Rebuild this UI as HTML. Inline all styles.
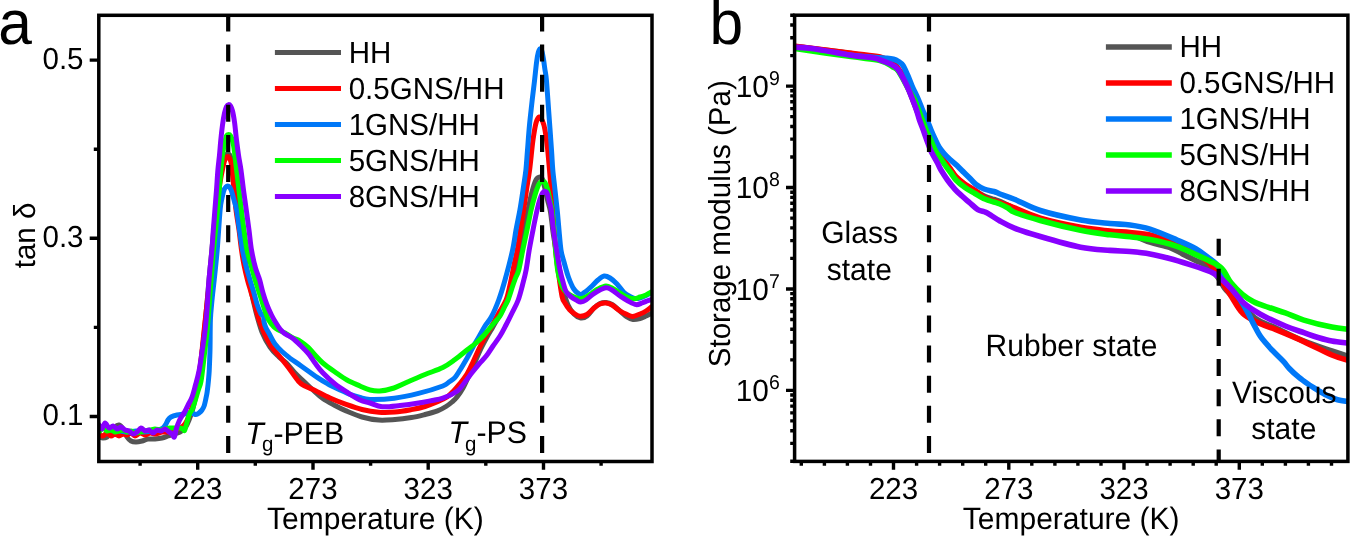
<!DOCTYPE html><html><head><meta charset="utf-8"><title>DMA figure</title><style>html,body{margin:0;padding:0;background:#fff;}svg{display:block;-webkit-font-smoothing:antialiased;will-change:transform;text-rendering:geometricPrecision;}text{font-family:"Liberation Sans", sans-serif;}</style></head><body>
<svg width="1350" height="536" viewBox="0 0 1350 536">
<rect width="1350" height="536" fill="#fff"/>
<g clip-path="url(#ca)">
<path d="M99.0,437.0 C99.7,437.2 101.7,438.0 103.0,438.0 C104.3,438.0 105.7,437.8 107.0,437.0 C108.3,436.2 109.7,434.7 111.0,433.0 C112.3,431.3 113.7,428.3 115.0,427.0 C116.3,425.7 117.7,424.7 119.0,425.0 C120.3,425.3 121.7,427.0 123.0,429.0 C124.3,431.0 125.7,435.0 127.0,437.0 C128.3,439.0 129.5,440.2 131.0,441.0 C132.5,441.8 134.2,442.0 136.0,442.0 C137.8,442.0 140.0,441.5 142.0,441.0 C144.0,440.5 145.8,439.3 148.0,439.0 C150.2,438.7 152.7,439.2 155.0,439.0 C157.3,438.8 159.8,438.5 162.0,438.0 C164.2,437.5 166.0,436.7 168.0,436.0 C170.0,435.3 172.0,434.7 174.0,434.0 C176.0,433.3 178.2,433.0 180.0,432.0 C181.8,431.0 183.5,430.0 185.0,428.0 C186.5,426.0 187.7,423.3 189.0,420.0 C190.3,416.7 191.7,413.0 193.0,408.0 C194.3,403.0 195.7,397.7 197.0,390.0 C198.3,382.3 199.7,372.8 201.0,362.0 C202.3,351.2 203.7,338.7 205.0,325.0 C206.3,311.3 207.7,294.5 209.0,280.0 C210.3,265.5 211.7,251.3 213.0,238.0 C214.3,224.7 215.7,211.0 217.0,200.0 C218.3,189.0 219.8,179.1 221.0,172.0 C222.2,164.9 223.4,160.5 224.5,157.5 C225.6,154.5 226.5,154.2 227.5,154.0 C228.5,153.8 229.5,153.8 230.5,156.5 C231.5,159.2 232.3,163.6 233.5,170.0 C234.7,176.4 236.2,185.0 237.5,195.0 C238.8,205.0 240.2,218.8 241.5,230.0 C242.8,241.2 244.0,252.3 245.5,262.0 C247.0,271.7 248.8,279.7 250.5,288.0 C252.2,296.3 254.1,304.7 256.0,312.0 C257.9,319.3 259.7,326.2 262.0,332.0 C264.3,337.8 267.2,342.8 270.0,347.0 C272.8,351.2 276.3,354.3 279.0,357.0 C281.7,359.7 283.7,360.3 286.4,363.0 C289.1,365.7 292.2,370.0 295.0,373.0 C297.8,376.0 300.4,378.2 303.4,381.0 C306.4,383.8 309.8,387.1 313.0,390.0 C316.2,392.9 319.1,395.9 322.8,398.5 C326.5,401.1 331.1,403.4 335.0,405.5 C338.9,407.6 341.6,409.0 346.1,410.9 C350.6,412.8 356.6,415.5 362.0,417.0 C367.4,418.5 373.3,419.7 378.8,420.1 C384.3,420.5 389.6,419.9 395.0,419.5 C400.4,419.1 406.4,418.3 411.4,417.5 C416.4,416.7 420.6,415.6 425.0,414.5 C429.4,413.4 434.0,412.2 437.5,410.9 C441.0,409.6 443.6,408.0 446.0,406.5 C448.4,405.0 450.2,403.6 452.0,402.0 C453.8,400.4 455.2,399.3 457.0,397.0 C458.8,394.7 461.0,391.6 463.0,388.0 C465.0,384.4 467.0,379.5 469.0,375.2 C471.0,370.9 473.0,366.4 475.0,362.0 C477.0,357.6 479.0,352.7 481.0,348.5 C483.0,344.3 485.0,340.6 487.0,337.0 C489.0,333.4 491.2,329.9 493.0,326.7 C494.8,323.5 496.4,320.8 498.0,318.0 C499.6,315.2 500.8,313.3 502.5,310.0 C504.2,306.7 506.2,303.0 508.0,298.0 C509.8,293.0 511.3,286.7 513.0,280.0 C514.7,273.3 516.7,263.0 518.0,258.0 C519.3,253.0 519.7,254.3 520.7,250.0 C521.7,245.7 522.8,238.7 524.0,232.0 C525.2,225.3 526.8,216.7 528.1,210.0 C529.4,203.3 530.7,197.0 532.0,192.0 C533.3,187.0 534.7,182.5 536.0,180.0 C537.3,177.5 538.9,177.1 540.0,177.0 C541.1,176.9 541.7,177.5 542.5,179.5 C543.3,181.5 544.2,185.6 545.0,189.0 C545.8,192.4 546.6,196.2 547.5,200.0 C548.4,203.8 549.6,206.7 550.5,212.0 C551.4,217.3 552.1,225.7 553.0,232.0 C553.9,238.3 554.9,243.7 556.0,250.0 C557.1,256.3 558.4,263.8 559.5,270.0 C560.6,276.2 561.1,281.2 562.5,287.0 C563.9,292.8 566.1,300.5 568.0,305.0 C569.9,309.5 571.9,311.8 574.0,314.0 C576.1,316.2 578.5,317.7 580.7,318.0 C582.9,318.3 584.8,317.7 587.0,316.0 C589.2,314.3 591.8,310.1 594.0,308.0 C596.2,305.9 598.0,304.4 600.0,303.5 C602.0,302.6 604.0,302.3 606.0,302.5 C608.0,302.7 609.7,303.1 612.0,304.5 C614.3,305.9 617.5,308.9 620.0,311.0 C622.5,313.1 624.8,315.6 627.0,317.0 C629.2,318.4 630.8,319.2 633.0,319.5 C635.2,319.8 637.8,319.1 640.0,318.5 C642.2,317.9 644.2,316.8 646.0,316.0 C647.8,315.2 650.2,313.9 651.0,313.5" fill="none" stroke="#555555" stroke-width="5.0" stroke-linejoin="round" stroke-linecap="round"/>
<path d="M99.0,434.0 C99.7,434.3 101.7,436.2 103.0,436.0 C104.3,435.8 105.7,433.0 107.0,433.0 C108.3,433.0 109.7,435.8 111.0,436.0 C112.3,436.2 113.7,434.0 115.0,434.0 C116.3,434.0 117.7,436.0 119.0,436.0 C120.3,436.0 121.7,434.2 123.0,434.0 C124.3,433.8 125.7,435.2 127.0,435.0 C128.3,434.8 129.7,432.8 131.0,433.0 C132.3,433.2 133.5,436.0 135.0,436.0 C136.5,436.0 138.3,433.2 140.0,433.0 C141.7,432.8 143.3,435.0 145.0,435.0 C146.7,435.0 148.2,433.2 150.0,433.0 C151.8,432.8 154.0,434.2 156.0,434.0 C158.0,433.8 160.0,432.3 162.0,432.0 C164.0,431.7 166.0,432.3 168.0,432.0 C170.0,431.7 172.0,430.7 174.0,430.0 C176.0,429.3 178.2,429.0 180.0,428.0 C181.8,427.0 183.5,426.0 185.0,424.0 C186.5,422.0 187.7,419.3 189.0,416.0 C190.3,412.7 191.7,409.0 193.0,404.0 C194.3,399.0 195.7,393.3 197.0,386.0 C198.3,378.7 199.7,370.7 201.0,360.0 C202.3,349.3 203.8,332.8 205.0,322.0 C206.2,311.2 207.0,303.7 208.0,295.0 C209.0,286.3 210.1,277.5 211.0,270.0 C211.9,262.5 212.8,256.7 213.5,250.0 C214.2,243.3 214.9,236.7 215.5,230.0 C216.1,223.3 216.4,216.7 217.0,210.0 C217.6,203.3 218.4,195.3 219.0,190.0 C219.6,184.7 220.2,181.3 220.8,178.0 C221.4,174.7 221.8,172.8 222.4,170.0 C223.0,167.2 223.8,163.1 224.5,161.0 C225.2,158.9 225.8,158.0 226.5,157.3 C227.2,156.6 227.8,156.0 228.5,156.8 C229.2,157.6 230.4,159.8 231.0,162.0 C231.6,164.2 231.6,165.3 232.1,170.0 C232.6,174.7 233.3,183.3 234.0,190.0 C234.7,196.7 235.2,203.3 236.0,210.0 C236.8,216.7 238.1,223.3 239.0,230.0 C239.9,236.7 240.7,244.2 241.5,250.0 C242.3,255.8 243.0,260.0 244.0,265.0 C245.0,270.0 246.3,275.5 247.5,280.0 C248.7,284.5 249.8,287.8 251.0,292.0 C252.2,296.2 253.6,300.3 254.9,305.0 C256.2,309.7 257.4,315.2 259.0,320.0 C260.6,324.8 262.6,329.7 264.6,334.0 C266.6,338.3 268.6,342.4 271.0,346.0 C273.4,349.6 276.3,352.3 279.1,355.8 C281.9,359.3 284.8,362.8 288.0,367.0 C291.2,371.2 295.7,378.1 298.5,381.3 C301.3,384.5 302.6,384.6 305.0,386.0 C307.4,387.4 308.8,387.5 313.0,389.5 C317.2,391.5 324.5,395.5 330.0,398.0 C335.5,400.5 340.8,402.5 346.1,404.4 C351.4,406.3 356.6,408.2 362.0,409.5 C367.4,410.8 373.3,411.8 378.8,412.2 C384.3,412.6 389.6,412.4 395.0,412.0 C400.4,411.6 406.4,410.5 411.4,409.6 C416.4,408.7 420.6,407.8 425.0,406.5 C429.4,405.2 433.8,403.4 437.5,401.8 C441.2,400.2 444.2,398.9 447.0,397.0 C449.8,395.1 451.8,392.8 454.0,390.5 C456.2,388.2 457.8,386.2 460.0,383.5 C462.2,380.8 464.8,377.6 467.0,374.0 C469.2,370.4 471.0,366.2 473.0,362.0 C475.0,357.8 477.1,352.7 479.1,348.5 C481.1,344.3 483.0,340.6 485.0,337.0 C487.0,333.4 489.5,329.9 491.3,326.7 C493.1,323.5 494.6,320.6 496.0,318.0 C497.4,315.4 498.3,314.0 500.0,311.0 C501.7,308.0 504.4,304.3 506.1,300.0 C507.8,295.7 508.7,290.8 510.0,285.0 C511.3,279.2 512.8,270.8 514.0,265.0 C515.2,259.2 516.2,255.8 517.3,250.0 C518.4,244.2 519.4,236.7 520.5,230.0 C521.6,223.3 522.7,216.7 523.7,210.0 C524.7,203.3 525.5,196.7 526.5,190.0 C527.5,183.3 528.5,178.3 529.6,170.0 C530.7,161.7 531.9,147.8 533.0,140.0 C534.1,132.2 535.0,126.8 536.0,123.0 C537.0,119.2 538.2,117.3 539.3,117.0 C540.4,116.7 541.5,118.8 542.5,121.0 C543.5,123.2 544.2,125.5 545.0,130.0 C545.8,134.5 546.8,141.3 547.5,148.0 C548.2,154.7 548.6,159.7 549.5,170.0 C550.4,180.3 551.8,196.7 552.8,210.0 C553.8,223.3 554.7,240.0 555.6,250.0 C556.5,260.0 556.9,262.2 558.0,270.0 C559.1,277.8 560.9,291.1 562.1,296.6 C563.3,302.1 563.8,300.8 565.0,303.0 C566.2,305.2 567.9,307.9 569.6,309.7 C571.3,311.5 573.3,312.9 575.0,314.0 C576.7,315.1 578.0,316.2 580.0,316.3 C582.0,316.4 584.7,315.9 587.0,314.5 C589.3,313.1 591.8,309.8 594.0,308.0 C596.2,306.2 598.0,304.8 600.0,304.0 C602.0,303.2 603.9,302.8 605.9,303.0 C607.9,303.2 609.6,303.7 612.0,305.0 C614.4,306.3 617.5,309.4 620.0,311.0 C622.5,312.6 624.9,313.6 627.0,314.5 C629.1,315.4 630.6,316.5 632.8,316.4 C635.0,316.3 637.8,314.9 640.0,314.0 C642.2,313.1 644.1,312.2 646.0,311.0 C647.9,309.8 650.4,307.7 651.3,307.0" fill="none" stroke="#ff0000" stroke-width="5.0" stroke-linejoin="round" stroke-linecap="round"/>
<path d="M99.0,430.0 C100.0,429.7 102.8,428.0 105.0,428.0 C107.2,428.0 109.5,429.5 112.0,430.0 C114.5,430.5 117.3,430.7 120.0,431.0 C122.7,431.3 125.3,432.0 128.0,432.0 C130.7,432.0 133.3,431.0 136.0,431.0 C138.7,431.0 141.3,432.0 144.0,432.0 C146.7,432.0 149.7,431.3 152.0,431.0 C154.3,430.7 156.2,430.5 158.0,430.0 C159.8,429.5 161.7,429.0 163.0,428.0 C164.3,427.0 165.2,425.3 166.0,424.0 C166.8,422.7 167.2,421.2 168.0,420.0 C168.8,418.8 169.5,417.8 171.0,417.0 C172.5,416.2 174.7,415.5 177.0,415.0 C179.3,414.5 182.3,414.3 184.6,414.0 C186.9,413.7 189.1,412.9 191.0,413.0 C192.9,413.1 194.7,414.5 196.0,414.5 C197.3,414.5 198.0,413.8 199.0,413.0 C200.0,412.2 201.2,411.2 202.0,410.0 C202.8,408.8 203.4,408.0 204.1,406.0 C204.8,404.0 205.5,400.4 206.0,398.0 C206.5,395.6 206.8,394.6 207.2,391.6 C207.6,388.6 208.2,383.4 208.5,380.0 C208.8,376.6 208.9,376.0 209.2,371.0 C209.4,366.0 209.8,358.5 210.0,350.0 C210.2,341.5 210.1,328.3 210.4,320.0 C210.7,311.7 211.4,306.7 212.0,300.0 C212.6,293.3 213.3,288.3 214.2,280.0 C215.1,271.7 216.2,261.7 217.2,250.0 C218.2,238.3 219.3,218.7 220.1,210.0 C220.9,201.3 221.3,201.3 222.0,198.0 C222.7,194.7 223.3,191.8 224.0,190.0 C224.7,188.2 225.4,187.7 226.0,187.0 C226.6,186.3 227.0,186.0 227.6,186.0 C228.2,186.0 228.8,186.2 229.5,187.0 C230.2,187.8 230.8,188.8 231.5,191.0 C232.2,193.2 233.2,196.8 234.0,200.0 C234.8,203.2 235.7,205.0 236.6,210.0 C237.5,215.0 238.5,223.3 239.5,230.0 C240.5,236.7 241.4,244.0 242.5,250.0 C243.6,256.0 244.8,261.0 246.0,266.0 C247.2,271.0 248.7,275.5 250.0,280.0 C251.3,284.5 252.8,288.8 254.0,293.0 C255.2,297.2 256.1,301.5 257.3,305.0 C258.5,308.5 260.0,312.2 261.0,314.0 C262.0,315.8 263.0,314.7 263.5,316.0 C264.0,317.3 263.6,320.0 264.0,322.0 C264.4,324.0 265.1,326.0 266.0,328.0 C266.9,330.0 267.9,331.3 269.4,334.0 C270.9,336.7 272.9,341.1 275.0,344.0 C277.1,346.9 279.4,349.1 282.0,351.5 C284.6,353.9 287.1,355.9 290.3,358.4 C293.6,360.8 297.0,363.0 301.5,366.2 C306.0,369.4 312.8,374.4 317.2,377.4 C321.6,380.4 324.3,381.9 328.0,384.0 C331.7,386.1 335.8,388.0 339.5,389.7 C343.2,391.4 346.6,393.0 350.0,394.3 C353.4,395.6 356.7,396.6 360.0,397.5 C363.3,398.4 364.3,399.3 370.0,399.4 C375.7,399.5 386.2,399.2 394.3,398.2 C402.4,397.2 410.4,395.4 418.5,393.4 C426.6,391.4 437.7,387.9 442.8,386.0 C447.9,384.1 447.0,383.4 449.0,382.0 C451.0,380.6 453.1,379.6 454.9,377.6 C456.7,375.6 458.0,373.2 460.0,370.0 C462.0,366.8 464.8,362.0 467.0,358.2 C469.2,354.4 471.0,350.6 473.0,347.0 C475.0,343.4 477.1,339.9 479.1,336.4 C481.1,332.9 483.0,329.2 485.0,326.0 C487.0,322.8 489.0,321.3 491.3,317.0 C493.6,312.7 496.4,306.2 498.7,300.0 C501.0,293.8 502.7,288.3 505.0,280.0 C507.3,271.7 510.8,258.3 512.6,250.0 C514.4,241.7 514.8,236.7 516.0,230.0 C517.2,223.3 518.7,216.7 519.9,210.0 C521.1,203.3 522.0,196.7 523.0,190.0 C524.0,183.3 525.1,176.7 525.9,170.0 C526.6,163.3 526.9,157.5 527.5,150.0 C528.1,142.5 528.7,133.3 529.5,125.0 C530.3,116.7 531.4,107.5 532.2,100.0 C533.1,92.5 533.9,86.3 534.6,80.0 C535.3,73.7 536.0,66.6 536.6,62.0 C537.2,57.4 537.7,54.7 538.3,52.5 C538.9,50.3 539.4,49.0 540.0,48.8 C540.6,48.5 541.2,49.1 541.8,51.0 C542.4,52.9 543.1,56.8 543.6,60.0 C544.1,63.2 544.5,66.7 545.0,70.0 C545.5,73.3 545.8,73.3 546.4,80.0 C547.0,86.7 547.8,98.3 548.6,110.0 C549.5,121.7 550.8,140.0 551.5,150.0 C552.2,160.0 552.2,163.3 552.8,170.0 C553.4,176.7 554.3,183.3 555.0,190.0 C555.7,196.7 556.5,203.3 557.2,210.0 C557.9,216.7 558.4,223.3 559.0,230.0 C559.6,236.7 560.2,244.7 561.0,250.0 C561.8,255.3 563.1,258.7 564.0,262.0 C564.9,265.3 565.5,267.5 566.2,270.0 C566.9,272.5 567.6,274.8 568.4,277.0 C569.2,279.2 570.1,281.6 571.0,283.5 C571.9,285.4 572.5,287.0 573.5,288.5 C574.5,290.0 575.8,291.5 577.0,292.5 C578.2,293.5 579.5,294.6 580.8,294.5 C582.1,294.4 583.1,293.4 585.0,292.0 C586.9,290.6 589.8,288.0 592.0,286.0 C594.2,284.0 596.0,281.7 598.0,280.0 C600.0,278.3 602.2,276.3 604.2,276.0 C606.2,275.7 607.9,276.7 610.0,278.0 C612.1,279.3 614.7,281.6 617.0,284.0 C619.3,286.4 621.8,290.4 624.0,292.5 C626.2,294.6 628.2,295.5 630.0,296.5 C631.8,297.5 632.8,298.2 634.5,298.5 C636.2,298.8 638.1,298.5 640.0,298.0 C641.9,297.5 644.1,296.4 646.0,295.5 C647.9,294.6 650.4,293.2 651.3,292.8" fill="none" stroke="#0078f8" stroke-width="5.0" stroke-linejoin="round" stroke-linecap="round"/>
<path d="M99.0,432.0 C99.7,431.3 101.7,428.2 103.0,428.0 C104.3,427.8 105.7,430.7 107.0,431.0 C108.3,431.3 109.7,429.8 111.0,430.0 C112.3,430.2 113.7,431.8 115.0,432.0 C116.3,432.2 117.7,431.3 119.0,431.0 C120.3,430.7 121.7,429.8 123.0,430.0 C124.3,430.2 125.7,431.8 127.0,432.0 C128.3,432.2 129.7,430.8 131.0,431.0 C132.3,431.2 133.5,432.8 135.0,433.0 C136.5,433.2 138.3,432.3 140.0,432.0 C141.7,431.7 143.3,431.3 145.0,431.0 C146.7,430.7 148.3,430.3 150.0,430.0 C151.7,429.7 153.3,429.0 155.0,429.0 C156.7,429.0 158.3,430.0 160.0,430.0 C161.7,430.0 163.3,429.3 165.0,429.0 C166.7,428.7 168.3,428.2 170.0,428.0 C171.7,427.8 173.3,428.0 175.0,428.0 C176.7,428.0 178.7,427.8 180.0,428.0 C181.3,428.2 182.2,428.6 183.0,429.0 C183.8,429.4 184.0,431.4 184.6,430.6 C185.2,429.8 185.8,426.4 186.5,424.0 C187.2,421.6 188.0,418.2 188.7,416.2 C189.4,414.2 189.8,413.4 190.5,412.0 C191.2,410.6 191.8,410.7 192.8,408.0 C193.8,405.3 195.5,399.3 196.5,396.0 C197.5,392.7 198.2,390.4 199.0,388.0 C199.8,385.6 200.2,385.6 201.0,381.3 C201.8,377.0 202.8,368.1 203.5,362.0 C204.2,355.9 204.9,350.3 205.5,345.0 C206.1,339.7 206.5,337.5 207.2,330.0 C207.9,322.5 208.8,309.2 209.5,300.0 C210.2,290.8 210.8,283.3 211.5,275.0 C212.2,266.7 212.8,257.5 213.5,250.0 C214.2,242.5 214.8,236.7 215.5,230.0 C216.2,223.3 216.9,216.7 217.5,210.0 C218.1,203.3 218.6,196.7 219.2,190.0 C219.8,183.3 220.3,175.8 220.9,170.0 C221.5,164.2 221.8,159.7 222.5,155.0 C223.2,150.3 224.1,145.2 224.8,142.0 C225.5,138.8 225.9,137.0 226.5,135.8 C227.1,134.6 227.8,134.6 228.5,134.6 C229.2,134.6 229.8,134.6 230.5,135.8 C231.2,137.0 232.2,139.3 232.9,142.0 C233.6,144.7 233.9,147.3 234.5,152.0 C235.1,156.7 235.8,163.7 236.6,170.0 C237.3,176.3 238.2,183.3 239.0,190.0 C239.8,196.7 240.6,203.3 241.4,210.0 C242.2,216.7 243.1,223.3 244.0,230.0 C244.9,236.7 245.8,244.2 247.0,250.0 C248.2,255.8 249.6,260.0 251.0,265.0 C252.4,270.0 253.7,275.0 255.2,280.0 C256.7,285.0 258.4,290.1 260.0,295.0 C261.6,299.9 263.2,305.5 264.6,309.7 C266.1,313.9 267.1,317.1 268.7,320.0 C270.3,322.9 272.3,325.3 274.0,327.0 C275.7,328.7 277.3,329.3 279.1,330.3 C280.9,331.3 282.7,331.7 285.0,333.0 C287.3,334.3 290.5,336.7 293.0,338.0 C295.5,339.3 297.5,339.4 300.0,341.0 C302.5,342.6 305.7,345.0 308.2,347.3 C310.7,349.6 312.6,352.4 315.0,355.0 C317.4,357.6 319.5,360.2 322.8,363.0 C326.1,365.8 331.0,369.2 335.0,372.0 C339.0,374.8 342.8,377.7 347.0,380.0 C351.2,382.3 356.2,384.3 360.0,386.0 C363.8,387.7 366.7,389.2 370.0,390.0 C373.3,390.8 375.7,391.3 379.7,391.0 C383.7,390.7 389.6,389.4 394.0,388.0 C398.4,386.6 401.2,384.8 406.4,382.5 C411.6,380.2 418.9,377.0 425.0,374.5 C431.1,372.0 437.8,370.0 442.8,367.5 C447.8,365.0 451.0,362.4 455.0,359.5 C459.0,356.6 463.5,352.8 467.0,350.0 C470.5,347.2 473.2,345.5 476.0,343.0 C478.8,340.5 481.7,337.7 484.0,335.2 C486.3,332.7 488.2,330.2 490.0,328.0 C491.8,325.8 493.3,324.0 495.0,322.0 C496.7,320.0 498.5,318.3 500.0,316.0 C501.5,313.7 502.7,310.7 504.0,308.0 C505.3,305.3 506.7,303.3 508.0,300.0 C509.3,296.7 510.8,291.7 512.0,288.0 C513.2,284.3 514.4,281.0 515.5,278.0 C516.6,275.0 517.6,274.7 518.8,270.0 C520.0,265.3 521.4,256.7 522.8,250.0 C524.2,243.3 525.6,236.7 527.0,230.0 C528.4,223.3 529.8,215.8 531.1,210.0 C532.4,204.2 533.8,199.2 535.0,195.0 C536.2,190.8 537.5,187.2 538.5,185.0 C539.5,182.8 540.2,182.4 541.0,181.8 C541.8,181.2 542.3,181.2 543.0,181.3 C543.7,181.4 544.2,181.3 545.0,182.6 C545.8,183.9 546.7,186.1 547.5,189.0 C548.3,191.9 549.2,196.5 550.0,200.0 C550.8,203.5 551.3,205.0 552.0,210.0 C552.7,215.0 553.4,223.3 554.0,230.0 C554.6,236.7 554.9,243.3 555.5,250.0 C556.1,256.7 556.9,265.0 557.6,270.0 C558.4,275.0 559.1,277.0 560.0,280.0 C560.9,283.0 561.8,285.8 563.0,288.0 C564.2,290.2 565.5,291.7 567.0,293.0 C568.5,294.3 570.3,295.2 572.0,296.0 C573.7,296.8 575.5,297.6 577.0,298.0 C578.5,298.4 579.2,298.9 580.7,298.7 C582.2,298.5 584.1,297.9 586.0,297.0 C587.9,296.1 590.0,294.3 592.0,293.0 C594.0,291.7 595.7,290.1 598.0,289.0 C600.3,287.9 603.6,286.3 605.9,286.1 C608.2,285.9 609.6,286.9 612.0,288.0 C614.4,289.1 617.5,291.5 620.0,293.0 C622.5,294.5 624.6,296.1 627.0,297.0 C629.4,297.9 632.3,298.7 634.5,298.7 C636.7,298.7 638.1,297.6 640.0,297.0 C641.9,296.4 644.1,295.8 646.0,295.0 C647.9,294.2 650.4,292.5 651.3,292.0" fill="none" stroke="#00ff00" stroke-width="5.0" stroke-linejoin="round" stroke-linecap="round"/>
<path d="M99.0,425.0 C99.5,425.7 101.0,429.3 102.0,429.0 C103.0,428.7 103.8,423.2 105.0,423.0 C106.2,422.8 107.7,427.5 109.0,428.0 C110.3,428.5 111.7,425.8 113.0,426.0 C114.3,426.2 115.7,428.8 117.0,429.0 C118.3,429.2 119.7,426.8 121.0,427.0 C122.3,427.2 123.7,429.3 125.0,430.0 C126.3,430.7 127.7,430.3 129.0,431.0 C130.3,431.7 131.7,433.8 133.0,434.0 C134.3,434.2 135.7,433.0 137.0,432.0 C138.3,431.0 139.7,428.2 141.0,428.0 C142.3,427.8 143.7,430.7 145.0,431.0 C146.3,431.3 147.7,429.7 149.0,430.0 C150.3,430.3 151.7,433.0 153.0,433.0 C154.3,433.0 155.7,430.3 157.0,430.0 C158.3,429.7 159.7,431.2 161.0,431.0 C162.3,430.8 163.7,428.8 165.0,429.0 C166.3,429.2 167.8,431.2 169.0,432.0 C170.2,432.8 171.1,433.2 172.0,434.0 C172.9,434.8 173.7,437.7 174.4,437.0 C175.1,436.3 175.2,432.8 176.0,430.0 C176.8,427.2 178.1,423.3 179.5,420.3 C180.9,417.3 183.2,414.6 184.6,412.0 C186.0,409.4 186.8,407.4 188.0,405.0 C189.2,402.6 190.6,401.0 191.8,397.7 C193.1,394.4 194.3,389.4 195.5,385.0 C196.7,380.6 197.9,376.5 199.0,371.0 C200.1,365.5 201.0,358.8 202.0,352.0 C203.0,345.2 204.3,337.0 205.1,330.0 C205.9,323.0 206.3,318.3 207.0,310.0 C207.7,301.7 208.2,290.0 209.0,280.0 C209.8,270.0 211.2,258.3 211.9,250.0 C212.6,241.7 212.8,236.7 213.3,230.0 C213.8,223.3 214.4,216.7 214.9,210.0 C215.4,203.3 216.0,196.7 216.5,190.0 C217.0,183.3 217.4,175.8 217.9,170.0 C218.4,164.2 219.0,160.0 219.5,155.0 C220.0,150.0 220.3,145.0 220.8,140.0 C221.3,135.0 221.9,129.5 222.5,125.0 C223.1,120.5 223.8,116.1 224.5,113.0 C225.2,109.9 225.8,107.9 226.5,106.5 C227.2,105.1 227.8,104.7 228.5,104.6 C229.2,104.5 229.8,104.7 230.5,105.8 C231.2,106.9 231.8,108.3 232.5,111.0 C233.2,113.7 233.8,117.2 234.5,122.0 C235.2,126.8 235.8,134.5 236.5,140.0 C237.2,145.5 237.8,150.0 238.5,155.0 C239.2,160.0 240.2,164.2 241.0,170.0 C241.8,175.8 242.6,183.3 243.5,190.0 C244.4,196.7 245.4,203.3 246.3,210.0 C247.2,216.7 248.1,223.3 249.0,230.0 C249.9,236.7 250.4,243.7 251.5,250.0 C252.6,256.3 254.1,263.0 255.5,268.0 C256.9,273.0 258.4,275.8 259.7,280.0 C260.9,284.2 261.8,288.8 263.0,293.0 C264.2,297.2 265.6,301.3 267.0,305.0 C268.4,308.7 270.1,312.2 271.5,315.0 C272.9,317.8 274.0,319.7 275.4,322.0 C276.8,324.3 278.6,327.2 280.0,329.0 C281.4,330.8 282.5,331.8 284.0,333.0 C285.5,334.2 287.4,335.0 289.0,336.0 C290.6,337.0 291.9,337.5 293.7,339.0 C295.5,340.5 297.6,342.6 300.0,345.0 C302.4,347.4 305.7,350.4 308.2,353.4 C310.7,356.4 312.6,359.8 315.0,363.0 C317.4,366.2 319.5,369.3 322.8,372.8 C326.1,376.3 331.0,380.8 335.0,384.0 C339.0,387.2 342.8,389.5 347.0,392.2 C351.2,394.9 356.2,398.2 360.0,400.0 C363.8,401.8 366.3,401.9 370.0,403.0 C373.7,404.1 377.1,406.3 382.1,406.7 C387.1,407.1 393.9,406.1 400.0,405.5 C406.1,404.9 411.4,404.2 418.5,403.0 C425.6,401.8 436.3,400.2 442.8,398.2 C449.3,396.2 453.6,393.7 457.3,391.0 C461.0,388.3 462.6,385.0 465.0,382.0 C467.4,379.0 469.6,375.8 471.9,372.8 C474.2,369.8 476.6,366.8 479.0,364.0 C481.4,361.2 484.1,358.8 486.4,355.8 C488.7,352.8 490.7,349.3 493.0,346.0 C495.3,342.7 497.8,339.5 500.0,336.0 C502.2,332.5 504.0,328.8 506.0,325.0 C508.0,321.2 510.0,317.2 512.0,313.0 C514.0,308.8 516.5,304.7 518.2,300.0 C520.0,295.3 521.2,290.0 522.5,285.0 C523.8,280.0 525.0,275.8 526.1,270.0 C527.2,264.2 528.1,256.7 529.2,250.0 C530.4,243.3 531.7,236.7 533.0,230.0 C534.3,223.3 535.9,215.2 537.1,210.0 C538.3,204.8 539.1,201.8 540.0,199.0 C540.9,196.2 541.7,194.3 542.5,193.0 C543.3,191.7 543.9,191.2 544.6,191.2 C545.4,191.2 546.3,191.5 547.0,193.0 C547.7,194.5 548.3,197.2 549.0,200.0 C549.7,202.8 550.5,205.0 551.3,210.0 C552.0,215.0 552.6,223.3 553.5,230.0 C554.4,236.7 555.4,243.3 556.5,250.0 C557.6,256.7 558.9,264.7 560.0,270.0 C561.1,275.3 562.0,278.5 563.0,282.0 C564.0,285.5 564.8,288.8 565.8,291.0 C566.8,293.2 567.8,293.8 569.0,295.0 C570.2,296.2 572.0,297.6 573.3,298.5 C574.6,299.4 575.8,299.9 577.0,300.5 C578.2,301.1 579.2,302.1 580.7,302.0 C582.2,301.9 584.1,301.2 586.0,300.0 C587.9,298.8 590.0,296.5 592.0,295.0 C594.0,293.5 595.7,292.2 598.0,291.0 C600.3,289.8 603.6,288.0 605.9,287.8 C608.2,287.6 609.6,288.6 612.0,290.0 C614.4,291.4 617.3,294.2 620.0,296.0 C622.7,297.8 625.3,299.6 628.0,301.0 C630.7,302.4 633.8,304.3 636.1,304.6 C638.4,304.9 640.2,303.6 642.0,303.0 C643.8,302.4 645.5,301.6 647.0,301.0 C648.5,300.4 650.6,299.8 651.3,299.6" fill="none" stroke="#8800ff" stroke-width="5.0" stroke-linejoin="round" stroke-linecap="round"/>
</g>
<g clip-path="url(#cb)">
<path d="M795.0,46.5 C804.3,47.7 836.8,51.3 851.0,53.5 C865.2,55.7 873.0,57.7 880.0,59.5 C887.0,61.3 889.7,62.3 893.0,64.5 C896.3,66.7 897.7,69.1 900.0,72.5 C902.3,75.9 904.7,79.9 907.0,85.0 C909.3,90.1 911.9,97.7 914.0,103.0 C916.1,108.3 917.8,112.8 919.5,117.0 C921.2,121.2 922.0,124.2 924.0,128.0 C926.0,131.8 929.7,136.3 931.5,139.6 C933.3,142.9 933.7,145.1 935.0,147.6 C936.3,150.1 937.8,152.1 939.5,154.6 C941.2,157.1 943.1,159.9 945.0,162.6 C946.9,165.3 949.2,168.1 951.0,170.6 C952.8,173.1 953.7,175.2 956.0,177.6 C958.3,180.0 961.8,182.8 965.0,185.1 C968.2,187.3 971.7,189.2 975.0,191.1 C978.3,193.0 981.8,195.1 985.0,196.5 C988.2,197.9 991.5,198.7 994.0,199.5 C996.5,200.3 997.7,200.5 1000.0,201.5 C1002.3,202.5 1005.5,204.2 1008.0,205.5 C1010.5,206.8 1009.6,206.8 1015.0,209.0 C1020.4,211.2 1029.4,215.8 1040.3,219.0 C1051.2,222.2 1069.0,226.2 1080.6,228.5 C1092.2,230.8 1101.8,231.5 1110.0,232.5 C1118.2,233.5 1123.3,232.9 1130.0,234.5 C1136.7,236.1 1143.4,240.0 1150.0,242.2 C1156.6,244.3 1164.2,245.4 1169.6,247.4 C1175.0,249.4 1178.2,251.7 1182.6,253.9 C1186.9,256.1 1191.3,258.3 1195.7,260.5 C1200.1,262.7 1205.0,264.2 1208.7,267.0 C1212.4,269.8 1215.3,273.9 1217.9,277.4 C1220.5,280.9 1222.4,285.1 1224.4,287.9 C1226.4,290.7 1227.9,292.0 1230.0,294.0 C1232.1,296.0 1232.4,295.8 1236.8,300.0 C1241.2,304.2 1249.8,314.3 1256.3,319.0 C1262.8,323.7 1268.0,324.3 1275.9,328.0 C1283.8,331.7 1294.6,337.3 1303.9,341.1 C1313.2,344.9 1324.3,348.4 1331.8,351.0 C1339.3,353.6 1346.1,355.5 1349.0,356.4" fill="none" stroke="#555555" stroke-width="5.6" stroke-linejoin="round" stroke-linecap="round"/>
<path d="M795.0,46.3 C804.3,47.4 836.8,51.4 851.0,53.2 C865.2,55.0 873.0,55.4 880.0,57.0 C887.0,58.6 889.7,60.7 893.0,63.0 C896.3,65.3 897.7,67.5 900.0,71.0 C902.3,74.5 904.7,78.8 907.0,84.0 C909.3,89.2 911.9,96.7 914.0,102.0 C916.1,107.3 917.8,111.8 919.5,116.0 C921.2,120.2 922.0,123.2 924.0,127.0 C926.0,130.8 929.7,135.5 931.5,138.8 C933.3,142.1 933.7,144.3 935.0,146.8 C936.3,149.3 937.8,151.3 939.5,153.8 C941.2,156.3 943.1,159.1 945.0,161.8 C946.9,164.5 949.2,167.3 951.0,169.8 C952.8,172.3 953.7,174.4 956.0,176.8 C958.3,179.2 961.8,182.1 965.0,184.3 C968.2,186.6 971.7,188.0 975.0,190.3 C978.3,192.6 981.8,196.2 985.0,198.0 C988.2,199.8 991.5,200.2 994.0,201.0 C996.5,201.8 997.7,202.2 1000.0,203.0 C1002.3,203.8 1005.5,204.6 1008.0,205.5 C1010.5,206.4 1009.6,206.1 1015.0,208.2 C1020.4,210.3 1029.4,215.0 1040.3,218.2 C1051.2,221.4 1069.0,225.2 1080.6,227.3 C1092.2,229.4 1101.8,230.1 1110.0,231.0 C1118.2,231.9 1123.3,231.8 1130.0,232.5 C1136.7,233.2 1143.4,233.5 1150.0,235.0 C1156.6,236.5 1163.1,239.0 1169.6,241.5 C1176.1,244.0 1183.3,247.1 1189.2,250.0 C1195.1,252.9 1200.9,256.4 1204.8,259.2 C1208.7,262.0 1210.1,263.7 1212.7,267.0 C1215.3,270.3 1217.4,274.1 1220.5,279.0 C1223.6,283.9 1227.5,290.5 1231.2,296.1 C1234.9,301.8 1238.1,308.5 1242.4,312.9 C1246.8,317.2 1251.7,319.4 1257.3,322.2 C1262.9,325.0 1268.2,326.5 1276.0,329.7 C1283.8,332.9 1294.6,337.4 1303.9,341.6 C1313.2,345.8 1324.3,351.8 1331.8,355.0 C1339.3,358.2 1346.1,359.7 1349.0,360.6" fill="none" stroke="#ff0000" stroke-width="5.6" stroke-linejoin="round" stroke-linecap="round"/>
<path d="M795.0,47.5 C804.3,48.8 837.7,53.6 851.0,55.3 C864.3,57.0 869.0,57.0 875.0,57.5 C881.0,58.0 883.9,58.0 887.0,58.3 C890.1,58.6 891.6,58.8 893.5,59.3 C895.4,59.8 896.9,60.5 898.5,61.5 C900.1,62.5 901.5,63.2 903.0,65.5 C904.5,67.8 906.0,71.6 907.5,75.0 C909.0,78.4 910.2,81.8 912.0,86.0 C913.8,90.2 916.8,96.0 918.5,100.0 C920.2,104.0 921.1,106.7 922.5,110.0 C923.9,113.3 925.6,116.7 927.0,120.0 C928.4,123.3 929.7,126.8 931.0,130.0 C932.3,133.2 933.7,136.2 935.0,139.0 C936.3,141.8 937.5,144.6 939.0,147.0 C940.5,149.4 942.2,151.4 944.0,153.5 C945.8,155.6 947.8,157.5 950.0,159.5 C952.2,161.5 954.7,163.3 957.0,165.5 C959.3,167.7 961.7,170.2 964.0,172.5 C966.3,174.8 968.6,177.0 970.6,179.0 C972.6,181.0 973.8,182.8 976.0,184.5 C978.2,186.2 981.0,187.8 984.0,189.0 C987.0,190.2 991.3,190.7 994.0,191.5 C996.7,192.3 996.5,192.7 1000.0,194.0 C1003.5,195.3 1008.3,196.8 1015.0,199.5 C1021.7,202.2 1029.4,207.1 1040.3,210.5 C1051.2,213.9 1069.0,217.8 1080.6,220.0 C1092.2,222.2 1101.8,222.7 1110.0,223.5 C1118.2,224.3 1123.3,224.1 1130.0,225.0 C1136.7,225.9 1142.3,226.7 1150.0,229.1 C1157.7,231.5 1168.5,236.3 1176.1,239.6 C1183.7,242.9 1190.3,245.6 1195.7,248.7 C1201.1,251.8 1205.0,255.1 1208.7,257.9 C1212.4,260.7 1215.4,262.7 1217.9,265.7 C1220.5,268.7 1221.8,272.8 1224.0,276.0 C1226.2,279.2 1228.5,280.9 1231.2,284.9 C1234.0,288.9 1237.7,295.2 1240.5,299.9 C1243.3,304.6 1245.8,308.9 1248.0,312.9 C1250.2,316.9 1251.4,320.1 1253.6,324.1 C1255.8,328.2 1257.9,332.9 1261.0,337.2 C1264.1,341.5 1268.5,346.2 1272.2,350.2 C1275.9,354.2 1280.6,358.3 1283.4,361.4 C1286.2,364.4 1286.8,365.9 1289.3,368.5 C1291.8,371.1 1295.6,374.6 1298.7,377.2 C1301.8,379.8 1304.9,381.9 1308.0,384.0 C1311.1,386.1 1314.2,388.0 1317.3,389.9 C1320.4,391.8 1323.6,393.8 1326.7,395.3 C1329.8,396.9 1332.3,398.1 1336.0,399.2 C1339.7,400.3 1346.8,401.5 1349.0,402.0" fill="none" stroke="#0078f8" stroke-width="5.6" stroke-linejoin="round" stroke-linecap="round"/>
<path d="M795.0,48.6 C804.3,49.9 836.8,54.6 851.0,56.6 C865.2,58.6 873.0,58.8 880.0,60.5 C887.0,62.2 889.8,65.1 893.0,67.0 C896.2,68.9 896.2,67.8 899.0,72.0 C901.8,76.2 907.4,87.3 910.0,92.0 C912.6,96.7 913.2,97.0 914.6,100.0 C916.0,103.0 917.2,106.7 918.5,110.0 C919.8,113.3 921.0,116.5 922.3,120.0 C923.6,123.5 925.0,127.3 926.5,131.0 C928.0,134.7 930.1,138.8 931.5,142.0 C932.9,145.2 933.7,147.5 935.0,150.0 C936.3,152.5 937.8,154.5 939.5,157.0 C941.2,159.5 943.1,162.3 945.0,165.0 C946.9,167.7 949.2,170.5 951.0,173.0 C952.8,175.5 953.7,177.6 956.0,180.0 C958.3,182.4 961.8,185.2 965.0,187.5 C968.2,189.8 971.7,191.6 975.0,193.5 C978.3,195.4 981.8,197.6 985.0,199.0 C988.2,200.4 991.5,201.2 994.0,202.0 C996.5,202.8 997.7,203.0 1000.0,204.0 C1002.3,205.0 1005.5,206.6 1008.0,208.0 C1010.5,209.4 1009.6,210.4 1015.0,212.5 C1020.4,214.6 1029.4,217.5 1040.3,220.5 C1051.2,223.5 1069.0,227.9 1080.6,230.3 C1092.2,232.7 1101.8,233.7 1110.0,234.8 C1118.2,235.9 1123.3,236.0 1130.0,236.8 C1136.7,237.6 1142.3,238.1 1150.0,239.6 C1157.7,241.1 1168.5,243.6 1176.1,246.1 C1183.7,248.6 1190.3,252.2 1195.7,254.6 C1201.1,257.0 1204.4,258.2 1208.7,260.5 C1213.0,262.8 1218.0,264.7 1221.8,268.5 C1225.5,272.3 1227.8,278.8 1231.2,283.1 C1234.6,287.4 1238.7,291.2 1242.4,294.3 C1246.1,297.4 1249.2,299.5 1253.6,301.7 C1257.9,303.9 1263.2,305.4 1268.5,307.3 C1273.8,309.2 1279.4,310.8 1285.3,312.9 C1291.2,315.0 1296.2,317.7 1303.9,320.1 C1311.7,322.5 1324.3,325.6 1331.8,327.1 C1339.3,328.6 1346.1,328.9 1349.0,329.3" fill="none" stroke="#00ff00" stroke-width="5.6" stroke-linejoin="round" stroke-linecap="round"/>
<path d="M796.0,47.3 C799.0,47.5 804.5,47.4 813.7,48.7 C822.9,50.0 841.0,53.7 851.0,55.2 C861.0,56.8 869.2,57.2 874.0,58.0 C878.8,58.8 877.3,59.0 880.0,60.0 C882.7,61.0 887.2,62.5 890.2,64.0 C893.2,65.5 895.1,65.9 897.8,69.3 C900.5,72.7 903.7,79.2 906.2,84.3 C908.7,89.4 911.1,95.7 912.8,100.0 C914.5,104.3 915.4,106.7 916.5,110.0 C917.6,113.3 918.2,116.3 919.5,120.0 C920.8,123.7 922.7,128.3 924.0,132.0 C925.3,135.7 926.4,139.0 927.5,142.0 C928.6,145.0 929.6,147.8 930.5,150.0 C931.4,152.2 931.8,152.8 933.0,155.0 C934.2,157.2 936.2,160.5 937.5,163.0 C938.8,165.5 939.3,167.2 941.0,170.0 C942.7,172.8 945.2,176.8 947.5,180.0 C949.8,183.2 952.6,186.6 955.0,189.3 C957.4,192.0 959.5,193.7 962.0,196.0 C964.5,198.3 967.4,200.7 970.0,203.0 C972.6,205.3 975.3,208.1 977.8,209.6 C980.3,211.1 983.1,211.2 985.0,212.0 C986.9,212.8 986.5,212.6 989.0,214.1 C991.5,215.6 995.7,218.6 1000.0,221.0 C1004.3,223.4 1008.3,225.7 1015.0,228.3 C1021.7,230.9 1029.4,233.3 1040.3,236.5 C1051.2,239.7 1069.0,244.9 1080.6,247.2 C1092.2,249.5 1101.8,249.7 1110.0,250.4 C1118.2,251.1 1123.3,250.9 1130.0,251.5 C1136.7,252.1 1143.4,252.7 1150.0,253.9 C1156.6,255.1 1163.1,256.8 1169.6,258.5 C1176.1,260.2 1183.3,262.5 1189.2,264.4 C1195.1,266.2 1200.7,268.1 1204.8,269.6 C1208.9,271.1 1211.2,271.9 1214.0,273.5 C1216.8,275.1 1218.9,276.8 1221.8,279.3 C1224.7,281.8 1227.8,285.0 1231.2,288.7 C1234.6,292.4 1238.7,298.1 1242.4,301.7 C1246.1,305.3 1249.2,307.3 1253.6,310.1 C1257.9,312.9 1263.2,315.9 1268.5,318.5 C1273.8,321.1 1279.4,323.6 1285.3,326.0 C1291.2,328.4 1298.5,330.8 1303.9,332.7 C1309.4,334.6 1313.3,336.1 1318.0,337.5 C1322.7,338.9 1326.6,340.1 1331.8,341.1 C1337.0,342.1 1346.1,342.9 1349.0,343.3" fill="none" stroke="#8800ff" stroke-width="5.6" stroke-linejoin="round" stroke-linecap="round"/>
</g>
<defs><clipPath id="ca"><rect x="98.8" y="15.3" width="553.2" height="446.2"/></clipPath>
<clipPath id="cb"><rect x="794.6" y="15.2" width="553.3" height="446.2"/></clipPath></defs>
<line x1="228.2" y1="14.5" x2="228.2" y2="460.0" stroke="#000" stroke-width="4.2" stroke-dasharray="17 13.1"/>
<line x1="542.1" y1="14.5" x2="542.1" y2="460.0" stroke="#000" stroke-width="4.2" stroke-dasharray="17 13.1"/>
<line x1="929.0" y1="14.5" x2="929.0" y2="460.0" stroke="#000" stroke-width="4.2" stroke-dasharray="17 13.1"/>
<line x1="1218.7" y1="238.7" x2="1218.7" y2="460.0" stroke="#000" stroke-width="4.2" stroke-dasharray="17 13.1"/>
<rect x="98.8" y="15.3" width="553.2" height="446.2" fill="none" stroke="#000" stroke-width="3.5"/>
<rect x="794.6" y="15.2" width="553.3" height="446.2" fill="none" stroke="#000" stroke-width="3.5"/>
<path d="M197.7,461.5V469.7 M313.0,461.5V469.7 M428.2,461.5V469.7 M543.5,461.5V469.7 M140.1,461.5V465.8 M255.3,461.5V465.8 M370.6,461.5V465.8 M485.8,461.5V465.8 M601.1,461.5V465.8 M89.7,416.5H98.8 M89.7,238.3H98.8 M89.7,60.1H98.8 M93.8,327.4H98.8 M93.8,149.2H98.8 M893.5,461.4V469.7 M1008.8,461.4V469.7 M1124.0,461.4V469.7 M1239.3,461.4V469.7 M801.3,461.4V465.8 M824.4,461.4V465.8 M847.4,461.4V465.8 M870.5,461.4V465.8 M916.6,461.4V465.8 M939.6,461.4V465.8 M962.7,461.4V465.8 M985.7,461.4V465.8 M1031.8,461.4V465.8 M1054.9,461.4V465.8 M1077.9,461.4V465.8 M1101.0,461.4V465.8 M1147.1,461.4V465.8 M1170.1,461.4V465.8 M1193.2,461.4V465.8 M1216.2,461.4V465.8 M1262.3,461.4V465.8 M1285.4,461.4V465.8 M1308.4,461.4V465.8 M1331.5,461.4V465.8 M786.0,390.4H794.6 M786.0,289.0H794.6 M786.0,187.5H794.6 M786.0,86.1H794.6 M790.2,461.3H794.6 M790.2,443.4H794.6 M790.2,430.8H794.6 M790.2,420.9H794.6 M790.2,412.9H794.6 M790.2,406.1H794.6 M790.2,400.2H794.6 M790.2,395.0H794.6 M790.2,359.9H794.6 M790.2,342.0H794.6 M790.2,329.3H794.6 M790.2,319.5H794.6 M790.2,311.5H794.6 M790.2,304.7H794.6 M790.2,298.8H794.6 M790.2,293.6H794.6 M790.2,258.4H794.6 M790.2,240.6H794.6 M790.2,227.9H794.6 M790.2,218.1H794.6 M790.2,210.0H794.6 M790.2,203.2H794.6 M790.2,197.4H794.6 M790.2,192.2H794.6 M790.2,157.0H794.6 M790.2,139.1H794.6 M790.2,126.5H794.6 M790.2,116.6H794.6 M790.2,108.6H794.6 M790.2,101.8H794.6 M790.2,95.9H794.6 M790.2,90.7H794.6 M790.2,55.6H794.6 M790.2,37.7H794.6 M790.2,25.0H794.6 M790.2,15.2H794.6" stroke="#000" stroke-width="3.4" fill="none"/>
<text transform="translate(-1.80,43.50) scale(1,1.030)" font-size="60.50" text-anchor="start" >a</text>
<text transform="translate(709.40,43.50) scale(1,1.030)" font-size="60.50" text-anchor="start" >b</text>
<text transform="translate(83.50,68.80) scale(1,1.030)" font-size="29.50" text-anchor="end" >0.5</text>
<text transform="translate(83.50,247.20) scale(1,1.030)" font-size="29.50" text-anchor="end" >0.3</text>
<text transform="translate(83.50,425.30) scale(1,1.030)" font-size="29.50" text-anchor="end" >0.1</text>
<text transform="translate(197.72,499.20) scale(1,1.030)" font-size="29.50" text-anchor="middle" >223</text>
<text transform="translate(893.51,499.20) scale(1,1.030)" font-size="29.50" text-anchor="middle" >223</text>
<text transform="translate(312.97,499.20) scale(1,1.030)" font-size="29.50" text-anchor="middle" >273</text>
<text transform="translate(1008.76,499.20) scale(1,1.030)" font-size="29.50" text-anchor="middle" >273</text>
<text transform="translate(428.22,499.20) scale(1,1.030)" font-size="29.50" text-anchor="middle" >323</text>
<text transform="translate(1124.01,499.20) scale(1,1.030)" font-size="29.50" text-anchor="middle" >323</text>
<text transform="translate(543.47,499.20) scale(1,1.030)" font-size="29.50" text-anchor="middle" >373</text>
<text transform="translate(1239.26,499.20) scale(1,1.030)" font-size="29.50" text-anchor="middle" >373</text>
<text transform="translate(375.40,528.90) scale(1,1.030)" font-size="30.00" text-anchor="middle" >Temperature (K)</text>
<text transform="translate(1071.20,528.90) scale(1,1.030)" font-size="30.00" text-anchor="middle" >Temperature (K)</text>
<text transform="translate(35.3,235.5) rotate(-90) scale(1,1.030)" font-size="29.5" text-anchor="middle">tan δ</text>
<text transform="translate(729.9,223.7) rotate(-90) scale(1,1.030)" font-size="29.5" text-anchor="middle">Storage modulus (Pa)</text>
<text transform="translate(779.8,96.8) scale(1,1.030)" font-size="29.8" text-anchor="end">10<tspan font-size="19.5" dy="-11.5">9</tspan></text>
<text transform="translate(779.8,198.2) scale(1,1.030)" font-size="29.8" text-anchor="end">10<tspan font-size="19.5" dy="-11.5">8</tspan></text>
<text transform="translate(779.8,299.7) scale(1,1.030)" font-size="29.8" text-anchor="end">10<tspan font-size="19.5" dy="-11.5">7</tspan></text>
<text transform="translate(779.8,401.1) scale(1,1.030)" font-size="29.8" text-anchor="end">10<tspan font-size="19.5" dy="-11.5">6</tspan></text>
<line x1="274.9" y1="52.5" x2="341" y2="52.5" stroke="#555555" stroke-width="4.8"/>
<text transform="translate(348.70,63.00) scale(1,1.030)" font-size="29.50" text-anchor="start" >HH</text>
<line x1="1105.9" y1="47.0" x2="1171.8" y2="47.0" stroke="#555555" stroke-width="5.6"/>
<text transform="translate(1179.40,57.00) scale(1,1.030)" font-size="29.50" text-anchor="start" >HH</text>
<line x1="274.9" y1="88.5" x2="341" y2="88.5" stroke="#ff0000" stroke-width="4.8"/>
<text transform="translate(348.70,99.00) scale(1,1.030)" font-size="29.50" text-anchor="start" >0.5GNS/HH</text>
<line x1="1105.9" y1="83.0" x2="1171.8" y2="83.0" stroke="#ff0000" stroke-width="5.6"/>
<text transform="translate(1179.40,93.00) scale(1,1.030)" font-size="29.50" text-anchor="start" >0.5GNS/HH</text>
<line x1="274.9" y1="124.5" x2="341" y2="124.5" stroke="#0078f8" stroke-width="4.8"/>
<text transform="translate(348.70,135.00) scale(1,1.030)" font-size="29.50" text-anchor="start" >1GNS/HH</text>
<line x1="1105.9" y1="119.0" x2="1171.8" y2="119.0" stroke="#0078f8" stroke-width="5.6"/>
<text transform="translate(1179.40,129.00) scale(1,1.030)" font-size="29.50" text-anchor="start" >1GNS/HH</text>
<line x1="274.9" y1="160.5" x2="341" y2="160.5" stroke="#00ff00" stroke-width="4.8"/>
<text transform="translate(348.70,171.00) scale(1,1.030)" font-size="29.50" text-anchor="start" >5GNS/HH</text>
<line x1="1105.9" y1="155.0" x2="1171.8" y2="155.0" stroke="#00ff00" stroke-width="5.6"/>
<text transform="translate(1179.40,165.00) scale(1,1.030)" font-size="29.50" text-anchor="start" >5GNS/HH</text>
<line x1="274.9" y1="196.5" x2="341" y2="196.5" stroke="#8800ff" stroke-width="4.8"/>
<text transform="translate(348.70,207.00) scale(1,1.030)" font-size="29.50" text-anchor="start" >8GNS/HH</text>
<line x1="1105.9" y1="191.0" x2="1171.8" y2="191.0" stroke="#8800ff" stroke-width="5.6"/>
<text transform="translate(1179.40,201.00) scale(1,1.030)" font-size="29.50" text-anchor="start" >8GNS/HH</text>
<text transform="translate(245.3,443.5) scale(1,1.030)" font-size="30.3"><tspan font-style="italic">T</tspan><tspan font-size="20.5" dx="-1.8" dy="7.6">g</tspan><tspan dy="-7.6">-PEB</tspan></text>
<text transform="translate(448.4,443.0) scale(1,1.030)" font-size="30.3"><tspan font-style="italic">T</tspan><tspan font-size="20.5" dx="-1.8" dy="7.6">g</tspan><tspan dy="-7.6">-PS</tspan></text>
<text transform="translate(859.60,242.80) scale(1,1.030)" font-size="30.00" text-anchor="middle" >Glass</text>
<text transform="translate(859.30,279.90) scale(1,1.030)" font-size="30.00" text-anchor="middle" >state</text>
<text transform="translate(985.60,356.10) scale(1,1.030)" font-size="30.00" text-anchor="start" >Rubber state</text>
<text transform="translate(1284.30,402.80) scale(1,1.030)" font-size="30.00" text-anchor="middle" >Viscous</text>
<text transform="translate(1283.80,438.60) scale(1,1.030)" font-size="30.00" text-anchor="middle" >state</text>
</svg></body></html>
